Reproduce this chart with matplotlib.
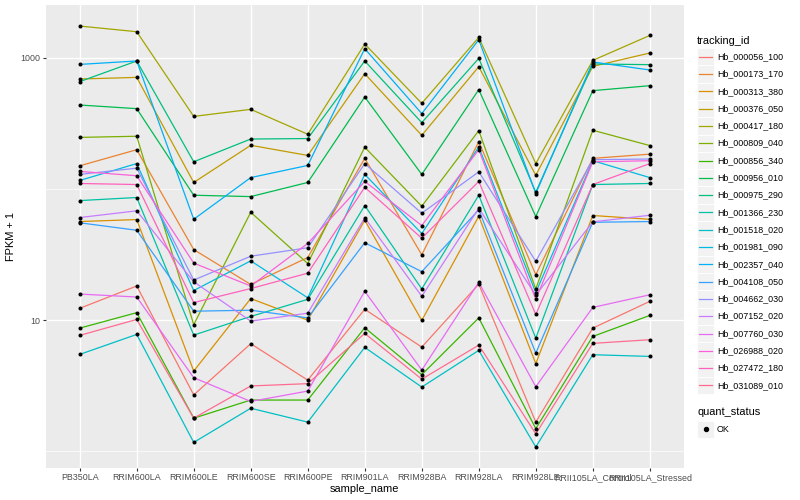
import numpy as np
import matplotlib
matplotlib.use("Agg")
import matplotlib.pyplot as plt
from matplotlib.patches import Rectangle
from matplotlib.lines import Line2D
from matplotlib.ticker import FixedLocator, NullFormatter

plt.rcParams['font.family'] = ['Liberation Sans', 'DejaVu Sans']

samples = ["PB350LA", "RRIM600LA", "RRIM600LE", "RRIM600SE", "RRIM600PE",
           "RRIM901LA", "RRIM928BA", "RRIM928LA", "RRIM928LE",
           "RRII105LA_Control", "RRII105LA_Stressed"]

tracking_ids = ["Hb_000056_100", "Hb_000173_170", "Hb_000313_380", "Hb_000376_050",
                "Hb_000417_180", "Hb_000809_040", "Hb_000856_340", "Hb_000956_010",
                "Hb_000975_290", "Hb_001366_230", "Hb_001518_020", "Hb_001981_090",
                "Hb_002357_040", "Hb_004108_050", "Hb_004662_030", "Hb_007152_020",
                "Hb_007760_030", "Hb_026988_020", "Hb_027472_180", "Hb_031089_010"]

colors = ["#F8766D", "#EA8331", "#D89000", "#C09B00", "#A3A500", "#7CAE00", "#39B600",
          "#00BB4E", "#00BF7D", "#00C1A3", "#00BFC4", "#00BAE0", "#00B0F6", "#35A2FF",
          "#9590FF", "#C77CFF", "#E76BF3", "#FA62DB", "#FF62BC", "#FF6C91"]

# FPKM + 1 values, one per sample
Hb_000056_100 = [12.3, 18.2, 2.69, 6.61, 3.49, 12.1, 6.23, 18.8, 1.67, 8.69, 13.9]
Hb_000173_170 = [150, 199, 34.5, 18.7, 30.0, 171, 31.5, 229, 22.2, 171, 184]
Hb_000313_380 = [56.4, 58.4, 4.09, 14.6, 10.0, 57.7, 9.95, 61.9, 4.66, 62.7, 58.7]
Hb_000376_050 = [688, 708, 112, 215, 180, 755, 256, 854, 127, 859, 1086]
Hb_000417_180 = [1743, 1578, 357, 404, 261, 1271, 449, 1427, 156, 954, 1478]
Hb_000809_040 = [247, 252, 9.23, 66.4, 27.0, 208, 73.8, 278, 17.3, 280, 214]
Hb_000856_340 = [8.69, 11.4, 1.79, 2.46, 2.46, 8.75, 3.84, 10.4, 1.49, 7.51, 10.86]
Hb_000956_010 = [436, 409, 89.5, 87.4, 112, 502, 129, 571, 61.6, 561, 612]
Hb_000975_290 = [657, 944, 161, 240, 242, 944, 320, 988, 94.3, 896, 885]
Hb_001366_230 = [81.5, 86.0, 7.69, 10.67, 14.4, 74.7, 17.3, 89.5, 7.29, 108, 110]
Hb_001518_020 = [5.48, 7.78, 1.17, 2.13, 1.67, 6.20, 3.09, 5.88, 1.08, 5.45, 5.29]
Hb_001981_090 = [116, 156, 16.8, 28.3, 14.8, 129, 45.7, 209, 16.2, 164, 122]
Hb_002357_040 = [889, 944, 58.7, 122, 151, 1171, 375, 1371, 92.2, 928, 806]
Hb_004108_050 = [55.2, 48.4, 11.7, 11.9, 10.4, 38.9, 23.4, 69.3, 5.61, 55.7, 56.4]
Hb_004662_030 = [129, 144, 20.2, 30.7, 35.6, 156, 65.3, 135, 28.1, 167, 169]
Hb_007152_020 = [60.5, 68.1, 19.6, 9.83, 11.3, 60.2, 15.2, 71.2, 15.5, 56.1, 63.0]
Hb_007760_030 = [15.8, 15.0, 3.64, 2.40, 2.88, 16.6, 4.16, 19.4, 3.11, 12.5, 15.6]
Hb_026988_020 = [136, 126, 27.2, 18.2, 38.4, 114, 52.6, 199, 14.4, 161, 164]
Hb_027472_180 = [110, 108, 13.6, 17.4, 22.8, 103, 42.1, 114, 11.05, 108, 156]
Hb_031089_010 = [7.65, 10.12, 1.79, 3.15, 3.28, 7.92, 3.55, 6.45, 1.36, 6.65, 7.09]

series = [Hb_000056_100, Hb_000173_170, Hb_000313_380, Hb_000376_050, Hb_000417_180,
          Hb_000809_040, Hb_000856_340, Hb_000956_010, Hb_000975_290, Hb_001366_230,
          Hb_001518_020, Hb_001981_090, Hb_002357_040, Hb_004108_050, Hb_004662_030,
          Hb_007152_020, Hb_007760_030, Hb_026988_020, Hb_027472_180, Hb_031089_010]

y_major = [10, 1000]
y_minor = [1, 100]

W, H = 800, 500
fig = plt.figure(figsize=(W / 100, H / 100), dpi=100)

def fx(px):
    return px / W

def fy(py):
    return 1 - py / H

left, right, top, bottom = 45.5, 684.0, 5.0, 468.0
ax = fig.add_axes([fx(left), fy(bottom), fx(right) - fx(left), fy(top) - fy(bottom)])
ax.set_facecolor('#EBEBEB')
for s in ax.spines.values():
    s.set_visible(False)

x = np.arange(len(samples))
for vals, c in zip(series, colors):
    ax.plot(x, vals, color=c, lw=0.9, zorder=2, solid_capstyle='butt')
allx = np.concatenate([x for _ in series])
ally = np.concatenate([np.array(v, dtype=float) for v in series])
ax.scatter(allx, ally, s=8.5, color='black', zorder=3, linewidths=0)

ax.set_yscale('log')
lo, hi = np.log10(ally.min()), np.log10(ally.max())
pad = 0.05 * (hi - lo)
ax.set_ylim(10 ** (lo - pad), 10 ** (hi + pad))
ax.set_xlim(-0.6, len(samples) - 1 + 0.6)

ax.yaxis.set_major_locator(FixedLocator(y_major))
ax.yaxis.set_minor_locator(FixedLocator(y_minor))
ax.yaxis.set_minor_formatter(NullFormatter())
ax.set_yticklabels([str(v) for v in y_major])
ax.set_xticks(x)
ax.set_xticklabels(samples)

ax.grid(which='major', color='white', lw=1.0, zorder=0)
ax.grid(which='minor', axis='y', color='white', lw=0.5, zorder=0)
ax.set_axisbelow(True)
ax.tick_params(which='major', length=2.0, width=0.8, color='#333333',
               labelsize=6.4, labelcolor='#4D4D4D', pad=1.6)
ax.tick_params(which='minor', length=0)

ax.set_xlabel('sample_name', fontsize=7.9, color='black', labelpad=1.5)
ax.set_ylabel('FPKM + 1', fontsize=7.9, color='black', labelpad=3)

# Legend: tracking_id
fig.text(fx(697), fy(40.7), 'tracking_id', fontsize=7.9, va='center', ha='left')
kx0, kw, kh = 697.0, 17.0, 17.3
for i, (tid, c) in enumerate(zip(tracking_ids, colors)):
    cy = 56.7 + kh * i
    fig.add_artist(Rectangle((fx(kx0), fy(cy + kh / 2)), fx(kw), kh / H,
                             transform=fig.transFigure, facecolor='#F2F2F2',
                             edgecolor='white', lw=0.6))
    fig.add_artist(Line2D([fx(kx0 + 1.7), fx(kx0 + kw - 1.7)], [fy(cy), fy(cy)],
                          transform=fig.transFigure, color=c, lw=0.9))
    fig.text(fx(717), fy(cy), tid, fontsize=6.4, va='center', ha='left')

# Legend: quant_status
fig.text(fx(697), fy(412.3), 'quant_status', fontsize=7.9, va='center', ha='left')
cy = 429.3
fig.add_artist(Rectangle((fx(kx0), fy(cy + kh / 2)), fx(kw), kh / H,
                         transform=fig.transFigure, facecolor='#F2F2F2',
                         edgecolor='white', lw=0.6))
fig.add_artist(Line2D([fx(kx0 + kw / 2)], [fy(cy)], transform=fig.transFigure,
                      marker='o', markersize=2.9, color='black', lw=0))
fig.text(fx(717), fy(cy), 'OK', fontsize=6.4, va='center', ha='left')

fig.savefig('out.png', dpi=100, facecolor='white')
